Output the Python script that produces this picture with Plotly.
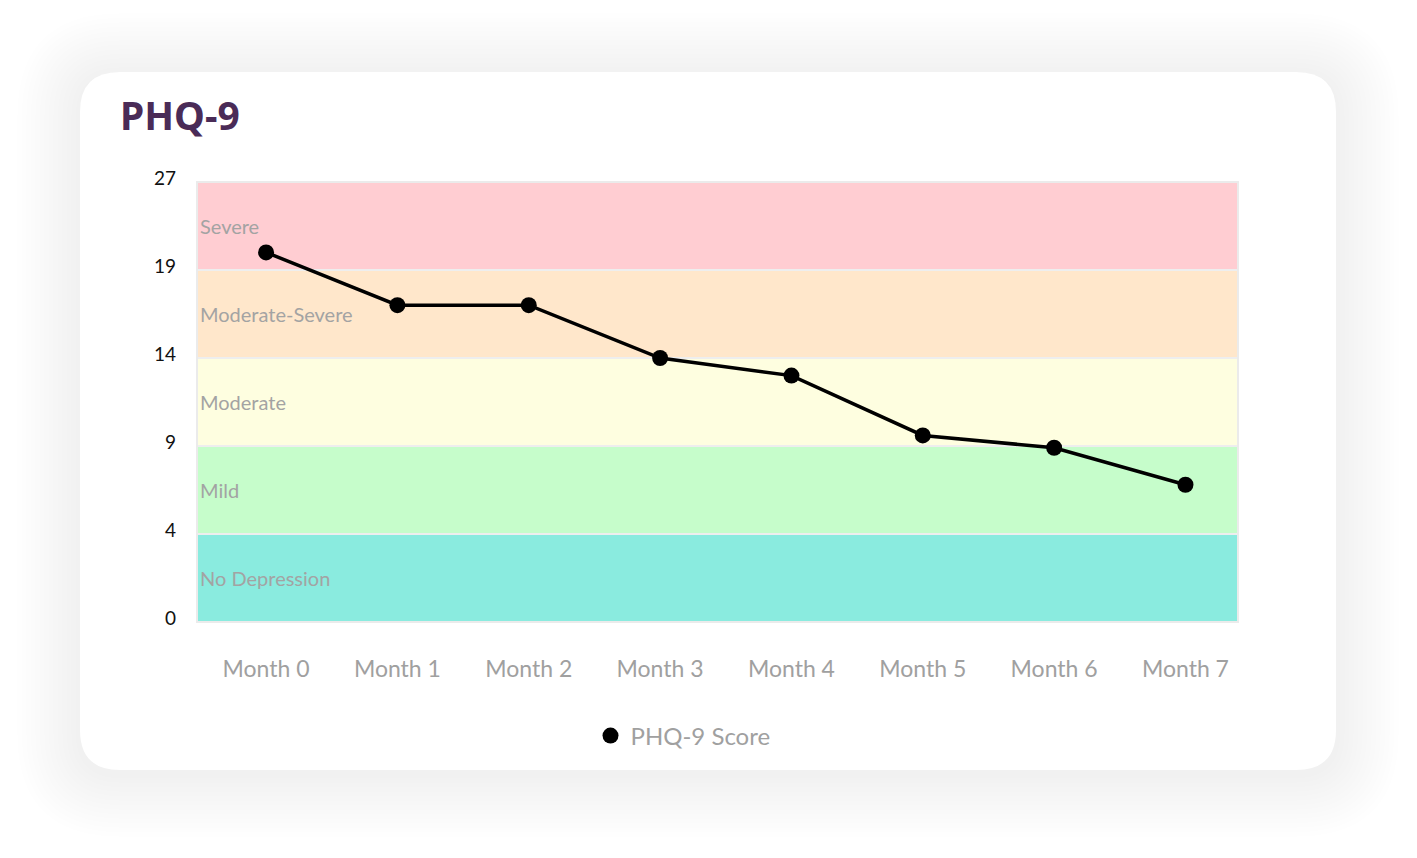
import numpy as np
import plotly.graph_objects as go

# ---- data ----
months = ["Month 0", "Month 1", "Month 2", "Month 3", "Month 4", "Month 5", "Month 6", "Month 7"]
scores = [20.6, 17, 17, 14, 13, 9.6, 8.9, 6.8]
tick_scores = [0, 4, 9, 14, 19, 27]
tick_labels = ["0", "4", "9", "14", "19", "27"]
band_names = ["No Depression", "Mild", "Moderate", "Moderate-Severe", "Severe"]
band_colors = ["#8aebdf", "#c6fdcb", "#fefee0", "#ffe7cb", "#ffcdd2"]
series_name = "PHQ-9 Score"
title_text = "PHQ-9"

# piecewise scale: each severity band gets equal height on the axis
band_idx = list(range(len(tick_scores)))
y_pos = np.interp(scores, tick_scores, band_idx)
x_pos = list(range(len(months)))

OFF = 8  # page body margin
W, H = 1417 - OFF, 858 - OFF
L, T = 197 - OFF, 182 - OFF
PW, PH = 1041, 440
R, B = W - L - PW, H - T - PH


def px(xp):
    return (xp - OFF - L) / PW


def py(yp):
    return (T + PH - (yp - OFF)) / PH


def rrect(x0, y0, x1, y1, r):
    pts = [
        f"M {px(x0 + r)},{py(y0)}",
        f"L {px(x1 - r)},{py(y0)}",
        f"Q {px(x1)},{py(y0)} {px(x1)},{py(y0 + r)}",
        f"L {px(x1)},{py(y1 - r)}",
        f"Q {px(x1)},{py(y1)} {px(x1 - r)},{py(y1)}",
        f"L {px(x0 + r)},{py(y1)}",
        f"Q {px(x0)},{py(y1)} {px(x0)},{py(y1 - r)}",
        f"L {px(x0)},{py(y0 + r)}",
        f"Q {px(x0)},{py(y0)} {px(x0 + r)},{py(y0)}",
        "Z",
    ]
    return " ".join(pts)


shapes = []
# soft shadow
for i in range(14, 0, -1):
    e = i * 4.5
    shapes.append(dict(type="path", xref="paper", yref="paper", layer="below",
                       path=rrect(80 - e, 72 - e + 4, 1336 + e, 770 + e + 4, 40 + e),
                       fillcolor="rgba(0,0,0,0.0034)", line=dict(width=0)))
# card
shapes.append(dict(type="path", xref="paper", yref="paper", layer="below",
                   path=rrect(80, 72, 1336, 770, 40),
                   fillcolor="#ffffff", line=dict(width=0)))
# severity bands
for i, c in enumerate(band_colors):
    shapes.append(dict(type="rect", xref="x domain", yref="y", layer="below",
                       x0=0, x1=1, y0=band_idx[i], y1=band_idx[i + 1],
                       fillcolor=c, line=dict(color="#eeeeee", width=2)))
# plot border
shapes.append(dict(type="rect", xref="paper", yref="paper", layer="below",
                   x0=0, x1=1, y0=0, y1=1, fillcolor="rgba(0,0,0,0)",
                   line=dict(color="#ebebeb", width=2)))

annotations = []
for i, name in enumerate(band_names):
    annotations.append(dict(xref="x domain", yref="y", x=0, y=(band_idx[i] + band_idx[i + 1]) / 2,
                            xanchor="left", yanchor="middle", xshift=1, showarrow=False,
                            text=name, font=dict(family="Lato", size=20, color="#a3a3a3")))
annotations.append(dict(xref="paper", yref="paper", x=px(118), y=py(114), xanchor="left",
                        yanchor="middle", showarrow=False, text=f"<b>{title_text}</b>",
                        font=dict(family="Noto Sans", size=39, color="#4a2b57")))

fig = go.Figure()
fig.add_trace(go.Scatter(x=x_pos, y=y_pos, mode="lines", line=dict(color="#000000", width=3.5),
                         showlegend=False, hoverinfo="skip"))
fig.add_trace(go.Scatter(x=x_pos, y=y_pos, mode="markers", name=series_name,
                         marker=dict(color="#000000", size=16),
                         customdata=scores, hovertemplate="%{customdata}<extra></extra>"))

fig.update_layout(
    width=W, height=H,
    margin=dict(l=L, r=R, t=T, b=B, autoexpand=False),
    paper_bgcolor="#ffffff", plot_bgcolor="rgba(0,0,0,0)",
    shapes=shapes, annotations=annotations,
    font=dict(family="Lato", color="#a0a0a0"),
    legend=dict(orientation="h", x=px(683), y=py(736), xanchor="center", yanchor="middle",
                font=dict(family="Lato", size=24, color="#a0a0a0"), bgcolor="rgba(0,0,0,0)"),
    xaxis=dict(range=[-0.526, 7.40], tickvals=x_pos, ticktext=months, showgrid=False,
               zeroline=False, showline=False, ticklabelstandoff=31,
               tickfont=dict(family="Lato", size=23, color="#a0a0a0"), fixedrange=True),
    yaxis=dict(range=[0, band_idx[-1]], tickvals=band_idx, ticktext=tick_labels, showgrid=False,
               zeroline=False, showline=False, ticklabelstandoff=20, ticklabelshift=-4,
               tickfont=dict(family="Lato", size=19, color="#111111"), fixedrange=True),
)

fig.write_html("out.html")
